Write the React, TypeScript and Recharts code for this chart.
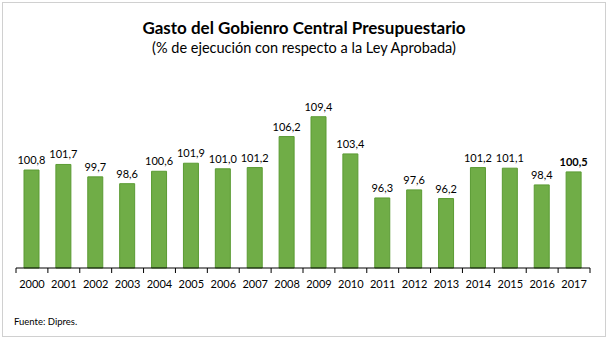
import { BarChart, Bar, XAxis, YAxis, LabelList } from "recharts"

const years = ["2000", "2001", "2002", "2003", "2004", "2005", "2006", "2007", "2008", "2009", "2010", "2011", "2012", "2013", "2014", "2015", "2016", "2017"]
const ejecucion = [100.8, 101.7, 99.7, 98.6, 100.6, 101.9, 101.0, 101.2, 106.2, 109.4, 103.4, 96.3, 97.6, 96.2, 101.2, 101.1, 98.4, 100.5]

const data = years.map((year, i) => ({ year, value: ejecucion[i] }))

const font = "Lato, 'Open Sans', sans-serif"

const fmt = (v: number) => v.toFixed(1).replace(".", ",")

function YearTick(props: any) {
  const { x, y, payload, index, visibleTicksCount, width } = props
  const step = width / visibleTicksCount
  return (
    <g>
      <line x1={x - step / 2} x2={x - step / 2} y1={y} y2={y + 5} stroke="#000" />
      {index === visibleTicksCount - 1 && (
        <line x1={x + step / 2} x2={x + step / 2} y1={y} y2={y + 5} stroke="#000" />
      )}
      <text x={x} y={y + 20} textAnchor="middle" fontSize={11} fontFamily={font} fill="#000">
        {payload.value}
      </text>
    </g>
  )
}

function ValueLabel(props: any) {
  const { x, y, width, value, index } = props
  return (
    <text
      x={x + width / 2}
      y={y - 6}
      textAnchor="middle"
      fontSize={11}
      fontFamily={font}
      fontWeight={index === ejecucion.length - 1 ? 700 : 400}
      fill="#000"
    >
      {fmt(value)}
    </text>
  )
}

export default function App() {
  return (
    <div style={{ position: "absolute", left: 0, top: 0, width: 608, height: 340, background: "#fff" }}>
      <div style={{ position: "absolute", left: 2, top: 2, width: 602, height: 333, border: "1px solid #d0d0d0" }} />
      <div style={{ position: "absolute", top: 17, width: 608, textAlign: "center", fontFamily: font, fontWeight: 700, fontSize: 17, color: "#000" }}>
        Gasto del Gobienro Central Presupuestario
      </div>
      <div style={{ position: "absolute", top: 39, width: 608, textAlign: "center", fontFamily: font, fontSize: 14.5, color: "#000" }}>
        (% de ejecución con respecto a la Ley Aprobada)
      </div>
      <div style={{ position: "absolute", left: 14, top: 316, fontFamily: font, fontSize: 9.5, color: "#000" }}>
        Fuente: Dipres.
      </div>
      <div style={{ position: "absolute", left: 0, top: 0 }}>
        <BarChart width={608} height={340} data={data} margin={{ top: 82, right: 18, bottom: 42, left: 16 }} barCategoryGap={0}>
          <YAxis hide domain={[85, 115]} />
          <XAxis
            dataKey="year"
            height={30}
            tickSize={0}
            tickMargin={0}
            tickLine={false}
            axisLine={{ stroke: "#000" }}
            interval={0}
            tick={<YearTick />}
          />
          <Bar dataKey="value" fill="#70ad47" stroke="#5b9b33" strokeWidth={1} barSize={15} isAnimationActive={false}>
            <LabelList dataKey="value" content={<ValueLabel />} />
          </Bar>
        </BarChart>
      </div>
    </div>
  )
}
